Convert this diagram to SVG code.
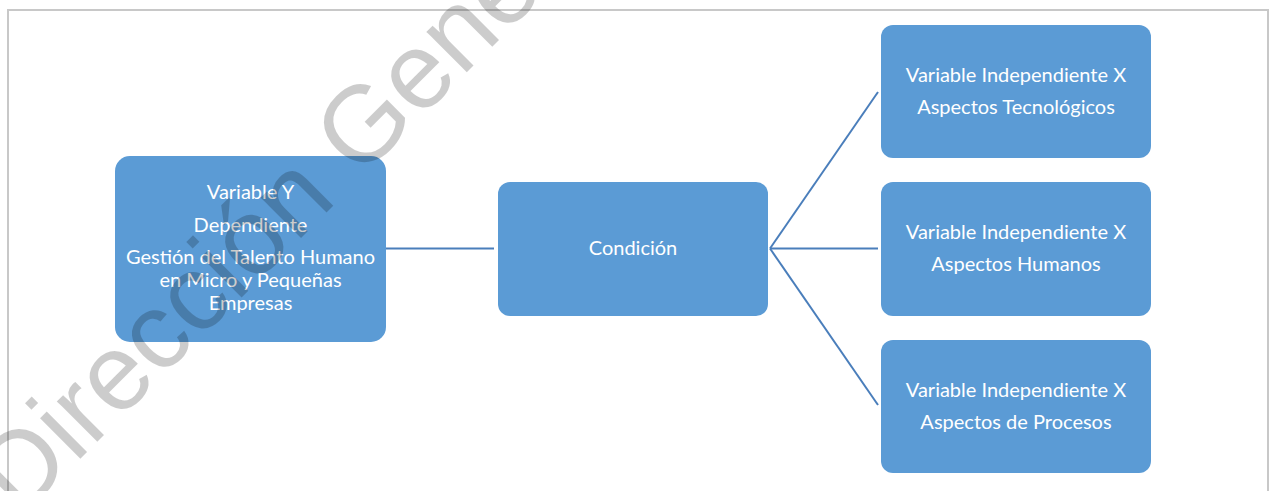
<svg xmlns="http://www.w3.org/2000/svg" width="1271" height="491" viewBox="0 0 1271 491">
  <style>
    .box { fill: #5B9BD5; }
    .lbl { fill: #FFFFFF; font-family: Lato, "Liberation Sans", Arial, sans-serif; font-size: 20px; text-anchor: middle; }
    .conn { stroke: #4A7EBB; stroke-width: 2; fill: none; }
    .wm { fill: #000000; fill-opacity: 0.2; font-family: "Liberation Sans", Arial, sans-serif; font-size: 108px; }
  </style>
  <rect x="0" y="0" width="1271" height="491" fill="#FFFFFF"/>
  <rect id="frame" x="8" y="10" width="1260" height="500" fill="none" stroke="#C8C8C8" stroke-width="2"/>

  <g id="connectors">
    <line class="conn" x1="386" y1="248.5" x2="494" y2="248.5"/>
    <line class="conn" x1="770" y1="248.5" x2="878" y2="92"/>
    <line class="conn" x1="770" y1="248.5" x2="878" y2="248.5"/>
    <line class="conn" x1="770" y1="248.5" x2="878" y2="405"/>
  </g>

  <g id="node-dependiente">
    <rect class="box" x="115" y="156" width="271" height="186" rx="15"/>
    <text class="lbl" x="250.5" y="199">Variable Y</text>
    <text class="lbl" x="250.5" y="232">Dependiente</text>
    <text class="lbl" x="250.5" y="264">Gestión del Talento Humano</text>
    <text class="lbl" x="250.5" y="287">en Micro y Pequeñas</text>
    <text class="lbl" x="250.5" y="310">Empresas</text>
  </g>

  <g id="node-condicion">
    <rect class="box" x="498" y="182" width="270" height="134" rx="12"/>
    <text class="lbl" x="633" y="255">Condición</text>
  </g>

  <g id="node-tecnologicos">
    <rect class="box" x="881" y="25" width="270" height="133" rx="12"/>
    <text class="lbl" x="1016" y="82">Variable Independiente X</text>
    <text class="lbl" x="1016" y="114">Aspectos Tecnológicos</text>
  </g>

  <g id="node-humanos">
    <rect class="box" x="881" y="182" width="270" height="134" rx="12"/>
    <text class="lbl" x="1016" y="239">Variable Independiente X</text>
    <text class="lbl" x="1016" y="271">Aspectos Humanos</text>
  </g>

  <g id="node-procesos">
    <rect class="box" x="881" y="340" width="270" height="133" rx="12"/>
    <text class="lbl" x="1016" y="397">Variable Independiente X</text>
    <text class="lbl" x="1016" y="429">Aspectos de Procesos</text>
  </g>

  <text class="wm" x="20" y="519" transform="rotate(-45 20 519)">Dirección Gene</text>
</svg>
